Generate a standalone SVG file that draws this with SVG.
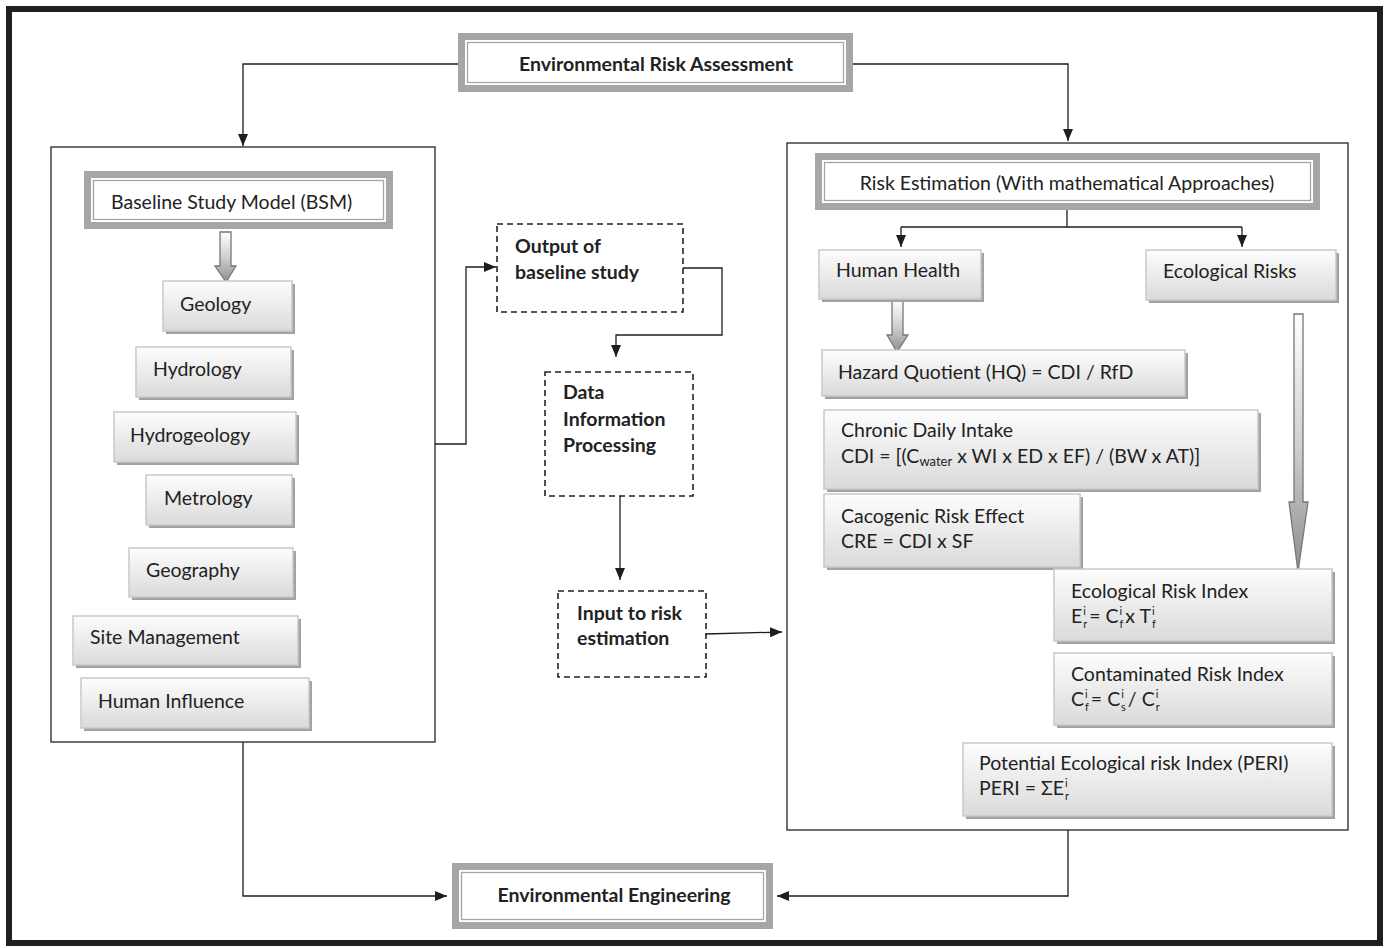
<svg xmlns="http://www.w3.org/2000/svg" width="1389" height="948" viewBox="0 0 1389 948">
<defs>
<linearGradient id="g" x1="0" y1="0" x2="0" y2="1">
<stop offset="0" stop-color="#fdfdfd"/>
<stop offset="1" stop-color="#dadada"/>
</linearGradient>
<linearGradient id="ag" x1="0" y1="0" x2="0" y2="1">
<stop offset="0" stop-color="#ffffff"/>
<stop offset="0.5" stop-color="#d0d0d4"/>
<stop offset="1" stop-color="#8e8e92"/>
</linearGradient>
<marker id="ah" markerWidth="12" markerHeight="10" refX="12" refY="5" orient="auto" markerUnits="userSpaceOnUse">
<path d="M0,0 L12,5 L0,10 Z" fill="#1e1e1e"/>
</marker>
<style>
.t{font-family:Lato,"Open Sans","Liberation Sans",sans-serif;font-size:19.5px;fill:#222}
.b{font-weight:bold}
.sm{font-size:11px}
.sw{font-size:13px}
.bx{fill:url(#g);stroke:#c9c9c9;stroke-width:1.5}
.sh{fill:#a2a2a2}
.ob{fill:#fff;stroke:#a6a6a6;stroke-width:7}
.ib{fill:none;stroke:#a6a6a6;stroke-width:1.3}
.ds{fill:#fff;stroke:#222;stroke-width:1.6;stroke-dasharray:6 4}
.pn{fill:none;stroke:#222;stroke-width:1.3}
.cn{fill:none;stroke:#1e1e1e;stroke-width:1.3}
.ha{fill:url(#ag);stroke:#777;stroke-width:1.3}
</style>
</defs>
<rect x="0" y="0" width="1389" height="948" fill="#fff"/>
<rect x="9" y="9" width="1371" height="934" fill="none" stroke="#231f20" stroke-width="6"/>

<!-- panels -->
<rect class="pn" x="51" y="147" width="384" height="595"/>
<rect class="pn" x="787" y="143" width="561" height="687"/>

<!-- connectors -->
<g id="connectors">
<polyline class="cn" points="458,64 243,64 243,146" marker-end="url(#ah)"/>
<polyline class="cn" points="853,64 1068,64 1068,141" marker-end="url(#ah)"/>
<polyline class="cn" points="435,444 466,444 466,267 496,267" marker-end="url(#ah)"/>
<polyline class="cn" points="683,268 722,268 722,335 616,335 616,357" marker-end="url(#ah)"/>
<polyline class="cn" points="620,496 620,580" marker-end="url(#ah)"/>
<polyline class="cn" points="706,634 782,632" marker-end="url(#ah)"/>
<polyline class="cn" points="1067,210 1067,227"/>
<polyline class="cn" points="901,227 1242,227"/>
<polyline class="cn" points="901,227 901,247" marker-end="url(#ah)"/>
<polyline class="cn" points="1242,227 1242,247" marker-end="url(#ah)"/>
<polyline class="cn" points="243,742 243,896 447,896" marker-end="url(#ah)"/>
<polyline class="cn" points="1068,830 1068,896 777,896" marker-end="url(#ah)"/>
<!-- hollow arrows -->
<path class="ha" d="M220,232 L231,232 L231,266 L236,266 L226,282 L215,266 L220,266 Z"/>
<path class="ha" d="M892,300 L903,300 L903,335 L908,335 L897,352 L887,335 L892,335 Z"/>
<path class="ha" d="M1294,314 L1303,314 L1303,502 L1308,502 L1298,572 L1289,502 L1294,502 Z"/>
</g>

<!-- title nodes -->
<g id="n-era">
<rect class="ob" x="461.5" y="36.5" width="388" height="52"/>
<rect class="ib" x="467.5" y="42.5" width="376" height="40"/>
<text class="t b" x="656" y="71" text-anchor="middle">Environmental Risk Assessment</text>
</g>
<g id="n-bsm">
<rect class="ob" x="87.5" y="174.5" width="302" height="51"/>
<rect class="ib" x="93.5" y="180.5" width="290" height="39"/>
<text class="t" x="111" y="209">Baseline Study Model (BSM)</text>
</g>
<g id="n-re">
<rect class="ob" x="818.5" y="156.5" width="498" height="50"/>
<rect class="ib" x="824.5" y="162.5" width="486" height="38"/>
<text class="t" x="1067" y="190" text-anchor="middle">Risk Estimation (With mathematical Approaches)</text>
</g>
<g id="n-ee">
<rect class="ob" x="455.5" y="866.5" width="314" height="59"/>
<rect class="ib" x="461.5" y="872.5" width="302" height="47"/>
<text class="t b" x="614" y="902" text-anchor="middle">Environmental Engineering</text>
</g>

<!-- left list -->
<g id="n-geology"><rect class="sh" x="166" y="284" width="129" height="50"/><rect class="bx" x="163" y="281" width="129" height="50"/><text class="t" x="180" y="311">Geology</text></g>
<g id="n-hydrology"><rect class="sh" x="139" y="350" width="155" height="50"/><rect class="bx" x="136" y="347" width="155" height="50"/><text class="t" x="153" y="376">Hydrology</text></g>
<g id="n-hydrogeology"><rect class="sh" x="117" y="415" width="182" height="50"/><rect class="bx" x="114" y="412" width="182" height="50"/><text class="t" x="130" y="442">Hydrogeology</text></g>
<g id="n-metrology"><rect class="sh" x="149" y="478" width="146" height="50"/><rect class="bx" x="146" y="475" width="146" height="50"/><text class="t" x="164" y="505">Metrology</text></g>
<g id="n-geography"><rect class="sh" x="132" y="551" width="164" height="49"/><rect class="bx" x="129" y="548" width="164" height="49"/><text class="t" x="146" y="577">Geography</text></g>
<g id="n-site"><rect class="sh" x="76" y="619" width="225" height="49"/><rect class="bx" x="73" y="616" width="225" height="49"/><text class="t" x="90" y="644">Site Management</text></g>
<g id="n-human"><rect class="sh" x="84" y="681" width="228" height="50"/><rect class="bx" x="81" y="678" width="228" height="50"/><text class="t" x="98" y="708">Human Influence</text></g>

<!-- dashed middle -->
<g id="n-output"><rect class="ds" x="497" y="224" width="186" height="88"/><text class="t b" x="515" y="253">Output of</text><text class="t b" x="515" y="279">baseline study</text></g>
<g id="n-data"><rect class="ds" x="545" y="372" width="148" height="124"/><text class="t b" x="563" y="399">Data</text><text class="t b" x="563" y="426">Information</text><text class="t b" x="563" y="452">Processing</text></g>
<g id="n-input"><rect class="ds" x="558" y="591" width="148" height="86"/><text class="t b" x="577" y="620">Input to risk</text><text class="t b" x="577" y="645">estimation</text></g>

<!-- right -->
<g id="n-hh"><rect class="sh" x="822" y="253" width="162" height="49"/><rect class="bx" x="819" y="250" width="162" height="49"/><text class="t" x="836" y="277">Human Health</text></g>
<g id="n-er"><rect class="sh" x="1149" y="253" width="190" height="50"/><rect class="bx" x="1146" y="250" width="190" height="50"/><text class="t" x="1163" y="278">Ecological Risks</text></g>
<g id="n-hq"><rect class="sh" x="825" y="353" width="363" height="46"/><rect class="bx" x="822" y="350" width="363" height="46"/><text class="t" x="838" y="379">Hazard Quotient (HQ) = CDI / RfD</text></g>
<g id="n-cdi"><rect class="sh" x="827" y="413" width="434" height="79"/><rect class="bx" x="824" y="410" width="434" height="79"/><text class="t" x="841" y="437">Chronic Daily Intake</text><text class="t" x="841" y="463">CDI = [(C<tspan class="sw" dy="3">water</tspan><tspan dy="-3"> x WI x ED x EF) / (BW x AT)]</tspan></text></g>
<g id="n-cre"><rect class="sh" x="827" y="497" width="256" height="73"/><rect class="bx" x="824" y="494" width="256" height="73"/><text class="t" x="841" y="523">Cacogenic Risk Effect</text><text class="t" x="841" y="548">CRE = CDI x SF</text></g>
<g id="n-eri"><rect class="sh" x="1057" y="572" width="278" height="72"/><rect class="bx" x="1054" y="569" width="278" height="72"/><text class="t" x="1071" y="598">Ecological Risk Index</text>
<text class="t" x="1071" y="623">E<tspan class="sm" dx="1" dy="-8">i</tspan><tspan class="sm" dx="-2.7" dy="13">r</tspan><tspan dx="2" dy="-5">= C</tspan><tspan class="sm" dx="1" dy="-8">i</tspan><tspan class="sm" dx="-2.7" dy="13">f</tspan><tspan dx="2" dy="-5">x T</tspan><tspan class="sm" dx="1" dy="-8">i</tspan><tspan class="sm" dx="-2.7" dy="13">f</tspan></text></g>
<g id="n-cri"><rect class="sh" x="1057" y="656" width="278" height="72"/><rect class="bx" x="1054" y="653" width="278" height="72"/><text class="t" x="1071" y="681">Contaminated Risk Index</text>
<text class="t" x="1071" y="706">C<tspan class="sm" dx="1" dy="-8">i</tspan><tspan class="sm" dx="-2.7" dy="13">f</tspan><tspan dx="2" dy="-5">= C</tspan><tspan class="sm" dx="1" dy="-8">i</tspan><tspan class="sm" dx="-2.7" dy="13">s</tspan><tspan dx="2" dy="-5">/ C</tspan><tspan class="sm" dx="1" dy="-8">i</tspan><tspan class="sm" dx="-2.7" dy="13">r</tspan></text></g>
<g id="n-peri"><rect class="sh" x="966" y="746" width="369" height="73"/><rect class="bx" x="963" y="743" width="369" height="73"/><text class="t" x="979" y="770">Potential Ecological risk Index (PERI)</text>
<text class="t" x="979" y="795">PERI = ΣE<tspan class="sm" dx="1" dy="-8">i</tspan><tspan class="sm" dx="-2.7" dy="13">r</tspan></text></g>
</svg>
